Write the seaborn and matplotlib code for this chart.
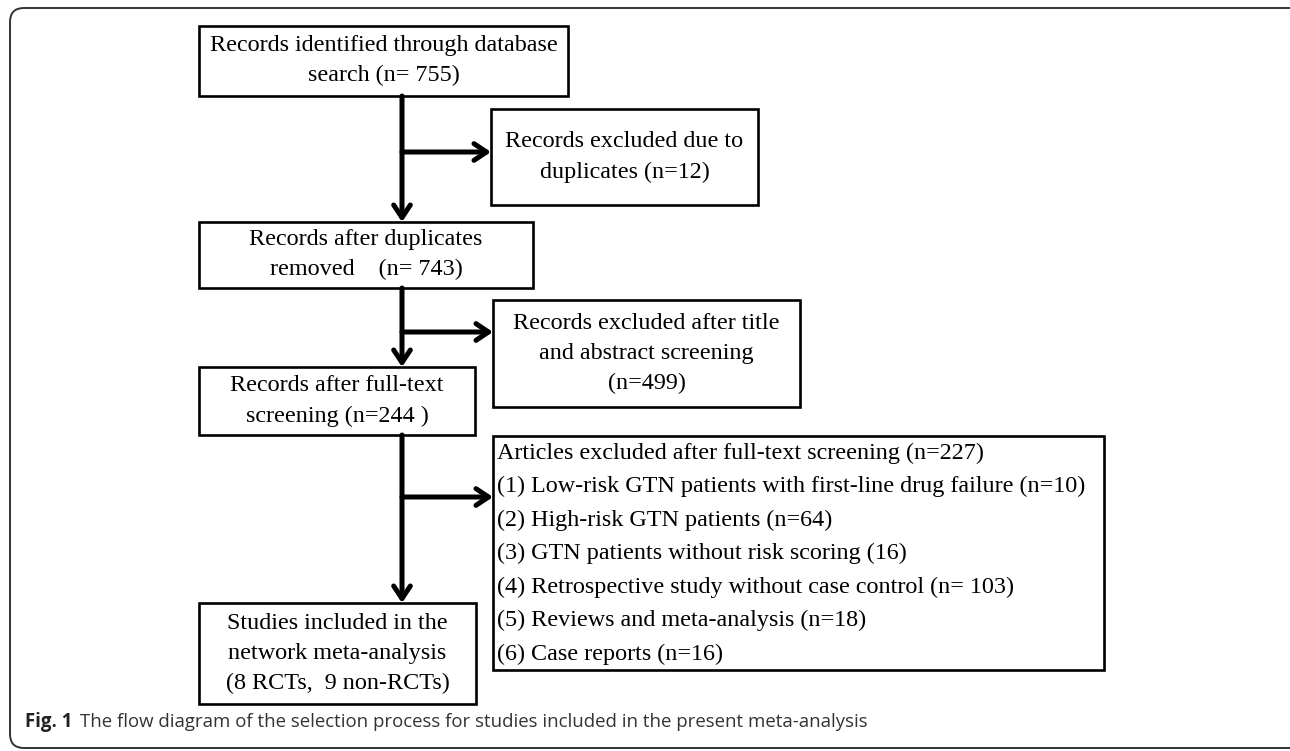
import numpy as np
import pandas as pd
import seaborn as sns
import matplotlib.pyplot as plt
from matplotlib.patches import Rectangle, FancyBboxPatch

# flow diagram content
main_steps = ['Records identified through database\nsearch (n= 755)',
              'Records after duplicates\nremoved    (n= 743)',
              'Records after full-text\nscreening (n=244 )',
              'Studies included in the\nnetwork meta-analysis\n(8 RCTs,  9 non-RCTs)']
excluded = ['Records excluded due to\nduplicates (n=12)',
            'Records excluded after title\nand abstract screening\n(n=499)']
fulltext_title = 'Articles excluded after full-text screening (n=227)'
fulltext_reasons = ['(1) Low-risk GTN patients with first-line drug failure (n=10)',
                    '(2) High-risk GTN patients (n=64)',
                    '(3) GTN patients without risk scoring (16)',
                    '(4) Retrospective study without case control (n= 103)',
                    '(5) Reviews and meta-analysis (n=18)',
                    '(6) Case reports (n=16)']
caption_bold = 'Fig. 1'
caption = 'The flow diagram of the selection process for studies included in the present meta-analysis'

sns.set_theme(style='white')
plt.rcParams['font.family'] = ['Liberation Serif', 'DejaVu Serif']

fig = plt.figure(figsize=(12.9, 7.51), dpi=100)
ax = fig.add_axes([0, 0, 1, 1])
ax.set_xlim(0, 1290)
ax.set_ylim(751, 0)
ax.axis('off')

# outer frame
ax.add_patch(FancyBboxPatch((10, 8), 1300, 740, boxstyle='round,pad=0,rounding_size=14',
                            fc='white', ec='#333333', lw=1.4))

fs = 17.4
box_lw = 1.9

def box(x0, y0, x1, y1, text):
    ax.add_patch(Rectangle((x0, y0), x1 - x0, y1 - y0, fill=False, ec='black', lw=box_lw))
    if text is not None:
        ax.text((x0 + x1) / 2, (y0 + y1) / 2, text, ha='center', va='center',
                fontsize=fs, linespacing=1.55, color='black')

main_boxes = [(199, 26, 568, 96), (199, 222, 533, 288), (199, 367, 475, 435), (199, 603, 476, 704)]
for b, t in zip(main_boxes, main_steps):
    box(*b, t)

box(491, 109, 758, 205, excluded[0])
box(493, 300, 800, 407, excluded[1])
box(493, 436, 1104, 670, None)
lines = [fulltext_title] + fulltext_reasons
for i, t in enumerate(lines):
    ax.text(497, 453 + i * 33.5, t, ha='left', va='center', fontsize=fs, color='black')

vx = 402
arrow = dict(arrowstyle='->,head_length=0.75,head_width=0.5', lw=3.6, color='black',
             shrinkA=0, shrinkB=0)
# vertical arrows
for (ya, yb) in [(96, 222), (288, 367), (435, 603)]:
    ax.annotate('', xy=(vx, yb), xytext=(vx, ya), arrowprops=arrow)
# side branches
for (y, xb) in [(152, 491), (332, 493), (497, 493)]:
    ax.annotate('', xy=(xb, y), xytext=(vx, y), arrowprops=arrow)

ax.text(25, 722, caption_bold, ha='left', va='center', fontsize=13.4, fontweight='bold',
        family=['Open Sans', 'DejaVu Sans'], color='#222222')
ax.text(80, 722, caption, ha='left', va='center', fontsize=13.4,
        family=['Open Sans', 'DejaVu Sans'], color='#333333')

fig.savefig('out.png', dpi=100)
